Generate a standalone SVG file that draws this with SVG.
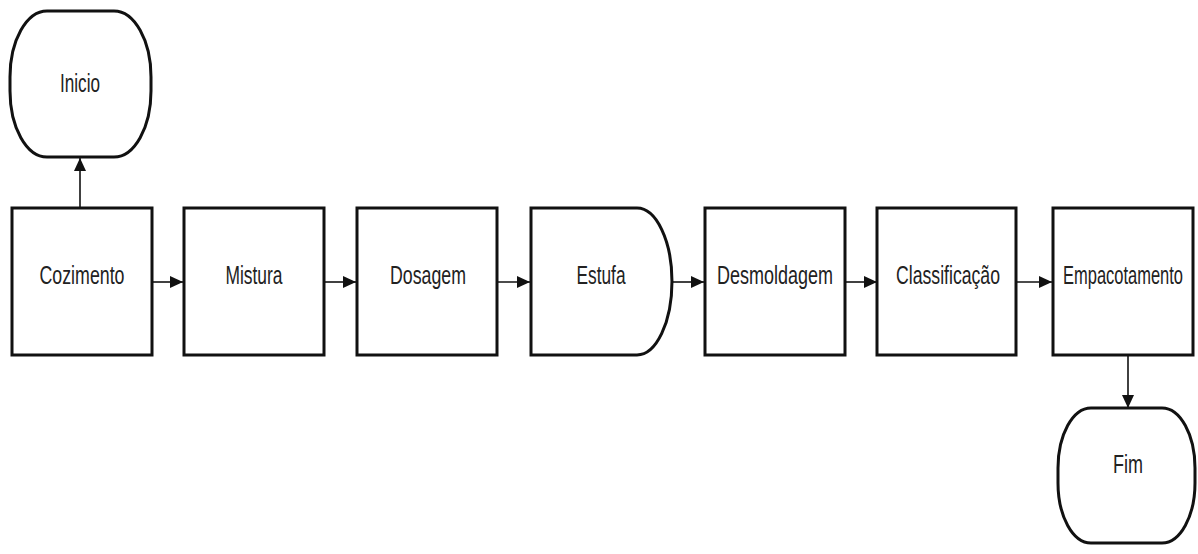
<svg xmlns="http://www.w3.org/2000/svg" width="1198" height="554" viewBox="0 0 1198 554">
<style>
.s{fill:#fff;stroke:#111;stroke-width:3}
.t{font-family:"Liberation Sans",Arial,sans-serif;font-size:25px;fill:#222;text-anchor:middle}
.c{stroke:#111;stroke-width:1.6;fill:none}
</style>
<defs>
<marker id="a" markerUnits="userSpaceOnUse" markerWidth="14" markerHeight="12" refX="13" refY="6" orient="auto">
<path d="M0,0 L13,6 L0,12 Z" fill="#111"/>
</marker>
</defs>
<rect width="1198" height="554" fill="#fff"/>
<g id="connectors">
<line class="c" x1="80" y1="208" x2="80" y2="158" marker-end="url(#a)"/>
<line class="c" x1="152" y1="282" x2="183" y2="282" marker-end="url(#a)"/>
<line class="c" x1="324" y1="282" x2="356" y2="282" marker-end="url(#a)"/>
<line class="c" x1="497" y1="282" x2="530" y2="282" marker-end="url(#a)"/>
<line class="c" x1="672" y1="282" x2="704" y2="282" marker-end="url(#a)"/>
<line class="c" x1="845" y1="282" x2="877" y2="282" marker-end="url(#a)"/>
<line class="c" x1="1016" y1="282" x2="1052" y2="282" marker-end="url(#a)"/>
<line class="c" x1="1128" y1="355" x2="1128" y2="408" marker-end="url(#a)"/>
</g>
<g id="inicio">
<rect class="s" x="10" y="11" width="141" height="146" rx="37" ry="66"/>
<text class="t" x="80" y="92" textLength="40" lengthAdjust="spacingAndGlyphs">Inicio</text>
</g>
<g id="cozimento">
<rect class="s" x="12" y="208" width="140" height="147"/>
<text class="t" x="82" y="284" textLength="85" lengthAdjust="spacingAndGlyphs">Cozimento</text>
</g>
<g id="mistura">
<rect class="s" x="184" y="208" width="140" height="147"/>
<text class="t" x="254" y="284" textLength="57" lengthAdjust="spacingAndGlyphs">Mistura</text>
</g>
<g id="dosagem">
<rect class="s" x="357" y="208" width="140" height="147"/>
<text class="t" x="428" y="284" textLength="76" lengthAdjust="spacingAndGlyphs">Dosagem</text>
</g>
<g id="estufa">
<path class="s" d="M531,208 H637 A35,73.5 0 0 1 637,355 H531 Z"/>
<text class="t" x="601" y="284" textLength="49" lengthAdjust="spacingAndGlyphs">Estufa</text>
</g>
<g id="desmoldagem">
<rect class="s" x="705" y="208" width="140" height="147"/>
<text class="t" x="775" y="284" textLength="116" lengthAdjust="spacingAndGlyphs">Desmoldagem</text>
</g>
<g id="classificacao">
<rect class="s" x="877" y="208" width="139" height="147"/>
<text class="t" x="948" y="284" textLength="104" lengthAdjust="spacingAndGlyphs">Classificação</text>
</g>
<g id="empacotamento">
<rect class="s" x="1053" y="208" width="140" height="147"/>
<text class="t" x="1123" y="284" textLength="120" lengthAdjust="spacingAndGlyphs">Empacotamento</text>
</g>
<g id="fim">
<rect class="s" x="1058" y="408" width="137" height="135" rx="33" ry="60"/>
<text class="t" x="1128" y="473" textLength="30" lengthAdjust="spacingAndGlyphs">Fim</text>
</g>
</svg>
